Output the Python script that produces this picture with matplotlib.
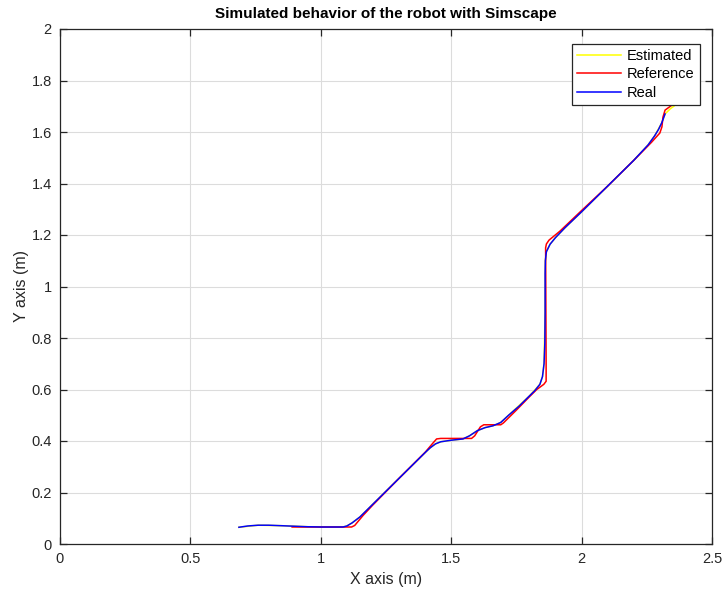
import matplotlib
matplotlib.use("Agg")
import matplotlib.pyplot as plt

plt.rcParams['font.family'] = ['Liberation Sans', 'DejaVu Sans']

# Trajectories (x, y) in metres
real_x = [0.686, 0.72, 0.76, 0.80, 0.85, 0.90, 0.95, 1.00, 1.05, 1.085, 1.10, 1.12, 1.15,
          1.20, 1.25, 1.30, 1.35, 1.40, 1.42, 1.44, 1.46, 1.50, 1.545, 1.57, 1.60, 1.63,
          1.66, 1.69, 1.72, 1.76, 1.80, 1.82, 1.84, 1.85, 1.856, 1.859, 1.860, 1.860,
          1.861, 1.865, 1.879, 1.90, 1.936, 2.00, 2.10, 2.20, 2.255, 2.28, 2.295, 2.307, 2.32]
real_y = [0.065, 0.070, 0.073, 0.073, 0.071, 0.069, 0.067, 0.066, 0.066, 0.066, 0.070, 0.082, 0.105,
          0.155, 0.205, 0.255, 0.305, 0.355, 0.374, 0.389, 0.397, 0.403, 0.408, 0.420, 0.440, 0.452,
          0.459, 0.472, 0.500, 0.535, 0.575, 0.595, 0.620, 0.650, 0.700, 0.780, 0.900, 1.050,
          1.100, 1.135, 1.164, 1.190, 1.228, 1.290, 1.390, 1.490, 1.550, 1.585, 1.610, 1.635, 1.670]

ref_x = [0.89, 1.118, 1.13, 1.163, 1.20, 1.30, 1.40, 1.43, 1.444, 1.46, 1.578, 1.59, 1.612,
         1.625, 1.69, 1.70, 1.75, 1.80, 1.828, 1.855, 1.864, 1.864, 1.862, 1.865, 1.875, 1.917,
         2.00, 2.10, 2.20, 2.268, 2.30, 2.308, 2.312, 2.32, 2.365, 2.39]
ref_y = [0.066, 0.066, 0.072, 0.112, 0.152, 0.255, 0.356, 0.392, 0.408, 0.410, 0.410, 0.420, 0.455,
         0.463, 0.463, 0.470, 0.520, 0.572, 0.600, 0.620, 0.632, 0.700, 1.150, 1.165, 1.180, 1.215,
         1.295, 1.390, 1.490, 1.560, 1.596, 1.620, 1.658, 1.685, 1.718, 1.728]

est_x = [0.686, 0.76, 0.85, 0.95, 1.05, 1.085, 1.10, 1.12, 1.15, 1.20, 1.30, 1.40, 1.42, 1.44,
         1.46, 1.50, 1.545, 1.57, 1.60, 1.63, 1.66, 1.69, 1.72, 1.80, 1.84, 1.85, 1.856, 1.860,
         1.861, 1.865, 1.879, 1.90, 1.936, 2.00, 2.20, 2.255, 2.28, 2.307, 2.32, 2.34, 2.36]
est_y = [0.065, 0.073, 0.071, 0.067, 0.066, 0.066, 0.070, 0.082, 0.105, 0.155, 0.255, 0.355, 0.374,
         0.389, 0.397, 0.403, 0.408, 0.420, 0.440, 0.452, 0.459, 0.472, 0.500, 0.575, 0.620, 0.650,
         0.700, 0.900, 1.100, 1.135, 1.164, 1.190, 1.228, 1.290, 1.490, 1.550, 1.585, 1.635, 1.670,
         1.690, 1.705]

x_ticks = [0, 0.5, 1, 1.5, 2, 2.5]
x_tick_labels = ['0', '0.5', '1', '1.5', '2', '2.5']
y_ticks = [0, 0.2, 0.4, 0.6, 0.8, 1, 1.2, 1.4, 1.6, 1.8, 2]
y_tick_labels = ['0', '0.2', '0.4', '0.6', '0.8', '1', '1.2', '1.4', '1.6', '1.8', '2']

fig = plt.figure(figsize=(7.23, 5.93), dpi=100)
ax = fig.add_axes([60 / 723, 49 / 593, 652 / 723, 515 / 593])

ax.plot(est_x, est_y, color='#ffff00', lw=1.1, label='Estimated')
ax.plot(ref_x, ref_y, color='#ff0000', lw=1.1, label='Reference')
ax.plot(real_x, real_y, color='#0000ff', lw=1.1, label='Real')

ax.set_xlim(0, 2.5)
ax.set_ylim(0, 2)
ax.set_xticks(x_ticks)
ax.set_xticklabels(x_tick_labels)
ax.set_yticks(y_ticks)
ax.set_yticklabels(y_tick_labels)

axis_col = '#262626'
ax.grid(True, color='#dcdcdc', lw=0.8)
ax.set_axisbelow(True)
for s in ax.spines.values():
    s.set_color(axis_col)
    s.set_linewidth(0.9)
ax.tick_params(direction='in', length=5, width=0.9, colors=axis_col, labelsize=10.5,
               top=True, right=True, pad=6)

ax.set_xlabel('X axis (m)', fontsize=11.5, color=axis_col, labelpad=4)
ax.set_ylabel('Y axis (m)', fontsize=11.5, color=axis_col, labelpad=2)
ax.set_title('Simulated behavior of the robot with Simscape', fontsize=11, fontweight='bold',
             color='black', pad=8)

leg = ax.legend(loc='upper right', bbox_to_anchor=(0.981, 0.971), fontsize=10.5, fancybox=False,
                framealpha=1, edgecolor=axis_col, handlelength=3.0, handletextpad=0.4,
                borderpad=0.35, labelspacing=0.3, borderaxespad=0)
leg.get_frame().set_linewidth(0.9)

fig.savefig('out.png', dpi=100)
